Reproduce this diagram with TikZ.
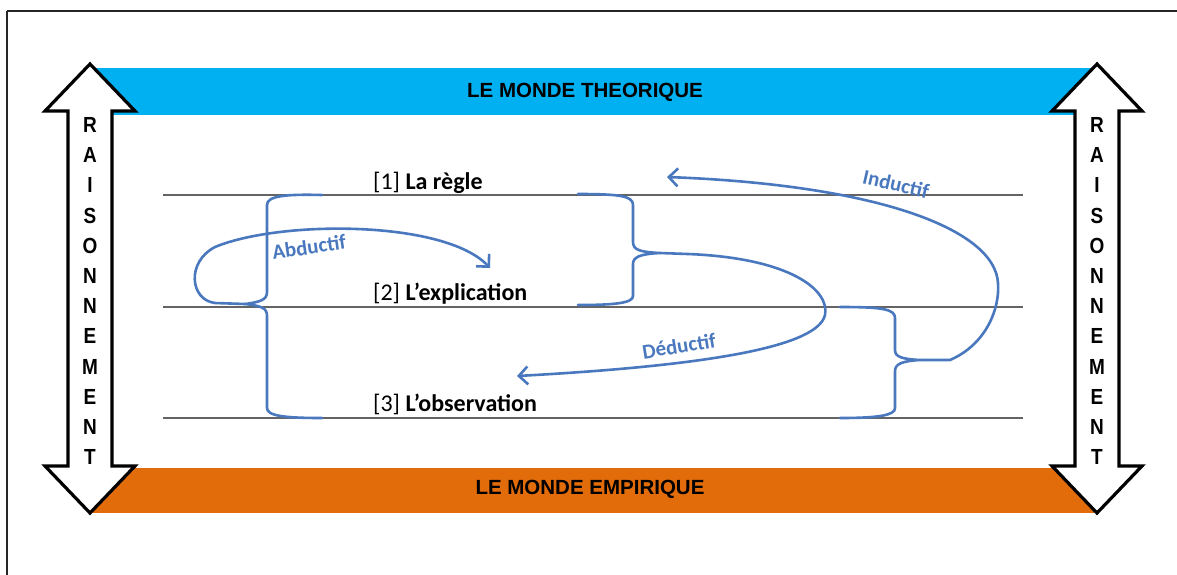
\documentclass[tikz,border=0pt]{standalone}
\usepackage{fontspec}
\setmainfont{Carlito}
\newfontfamily\arialfont{Liberation Sans}
\usetikzlibrary{arrows.meta}
\definecolor{bandblue}{RGB}{0,176,240}
\definecolor{bandorange}{RGB}{226,107,10}
\definecolor{curveblue}{RGB}{74,120,190}
\definecolor{linegray}{RGB}{100,100,100}
\begin{document}
\begin{tikzpicture}[x=1pt,y=-1pt,
  bandtext/.style={font=\arialfont\bfseries\fontsize{20.5}{24}\selectfont, text=black, inner sep=0pt},
  vletter/.style={font=\arialfont\bfseries\fontsize{19}{22}\selectfont, inner sep=0pt},
  levelline/.style={draw=linegray, line width=1.6pt},
  leveltext/.style={font=\fontsize{24}{28}\selectfont, anchor=base west, inner sep=0pt},
  bracestroke/.style={draw=curveblue, line width=2.6pt, line cap=round, line join=round},
  reasonarrow/.style={draw=curveblue, line width=2.6pt, line cap=round, -{Straight Barb[length=9pt,width=18pt,line width=2.6pt]}},
  curvelabel/.style={font=\bfseries\fontsize{21}{24}\selectfont, text=curveblue, inner sep=0pt},
  bigarrow/.style={draw=black, fill=white, line width=3.2pt, line join=miter},
]
\useasboundingbox (0,0) rectangle (1177,574);
% outer frame
\draw[line width=1.8pt, draw=black!85] (7,11) -- (1190,11) (7,11) -- (7,590);
% bands
\fill[bandblue] (90,68) rectangle (1097,115);
\fill[bandorange] (90,468) rectangle (1097,513);
\node[bandtext] (theo) at (585,92) {LE MONDE THEORIQUE};
\node[bandtext] (emp) at (590,489) {LE MONDE EMPIRIQUE};
% double arrows
\foreach \cx in {90,1097}{
  \path[bigarrow] (\cx,64) -- (\cx+45,111) -- (\cx+22,111) -- (\cx+22,466) -- (\cx+45,466)
     -- (\cx,513) -- (\cx-45,466) -- (\cx-22,466) -- (\cx-22,111) -- (\cx-45,111) -- cycle;
}
\foreach \ch [count=\i from 0] in {R,A,I,S,O,N,N,E,M,E,N,T}{
  \node[vletter] (lt\i) at (90,125+30.2*\i) {\scalebox{1}[1.15]{\ch}};
  \node[vletter] (rt\i) at (1097,125+30.2*\i) {\scalebox{1}[1.15]{\ch}};
}
% level lines
\coordinate (l1a) at (163,195); \coordinate (l1b) at (1023,195);
\coordinate (l2a) at (163,307); \coordinate (l2b) at (1023,307);
\coordinate (l3a) at (163,418); \coordinate (l3b) at (1023,418);
\draw[levelline] (l1a) -- (l1b);
\draw[levelline] (l2a) -- (l2b);
\draw[levelline] (l3a) -- (l3b);
\node[leveltext] (t1) at (373,189) {[1] \textbf{La règle}};
\node[leveltext] (t2) at (373,300) {[2] \textbf{L’explication}};
\node[leveltext] (t3) at (373,411) {[3] \textbf{L’observation}};
% braces
\coordinate (tipA) at (245,304);
\coordinate (tipB) at (660,253);
\coordinate (tipC) at (920,360);
\draw[bracestroke] (322,195) .. controls (285,194) and (267,196) .. (267,205) -- (267,292)
   .. controls (267,300) and (260,302) .. (tipA)
   .. controls (262,306) and (267,308) .. (267,316) -- (267,408)
   .. controls (267,416) and (285,418) .. (322,418);
\draw[bracestroke] (578,194) .. controls (620,194) and (633,196) .. (633,205) -- (633,242)
   .. controls (633,250) and (640,252) .. (tipB)
   .. controls (640,254) and (633,257) .. (633,264) -- (633,296)
   .. controls (633,303) and (615,305) .. (578,305);
\draw[bracestroke] (840,307) .. controls (882,307) and (895,309) .. (895,318) -- (895,350)
   .. controls (895,357) and (902,359) .. (tipC)
   .. controls (902,361) and (895,364) .. (895,371) -- (895,408)
   .. controls (895,415) and (880,418) .. (840,418);
% reasoning curves
\coordinate (endA) at (490,268);
\coordinate (endB) at (517,376);
\coordinate (endC) at (667,177);
\draw[reasonarrow] (tipA) -- (215,303) .. controls (190,300) and (186,262) .. (215,247)
   .. controls (280,220) and (445,220) .. (endA);
\draw[reasonarrow] (tipB) -- (688,254) .. controls (790,258) and (830,290) .. (825,315)
   .. controls (818,345) and (720,365) .. (endB);
\draw[reasonarrow] (tipC) -- (950,360) .. controls (985,345) and (1000,310) .. (998,283)
   .. controls (995,230) and (880,185) .. (endC);
\node[curvelabel, rotate=8] (abd) at (309,247) {Abductif};
\node[curvelabel, rotate=9] (ded) at (679,346) {Déductif};
\node[curvelabel, rotate=-13] (ind) at (896,184) {Inductif};
\end{tikzpicture}
\end{document}
